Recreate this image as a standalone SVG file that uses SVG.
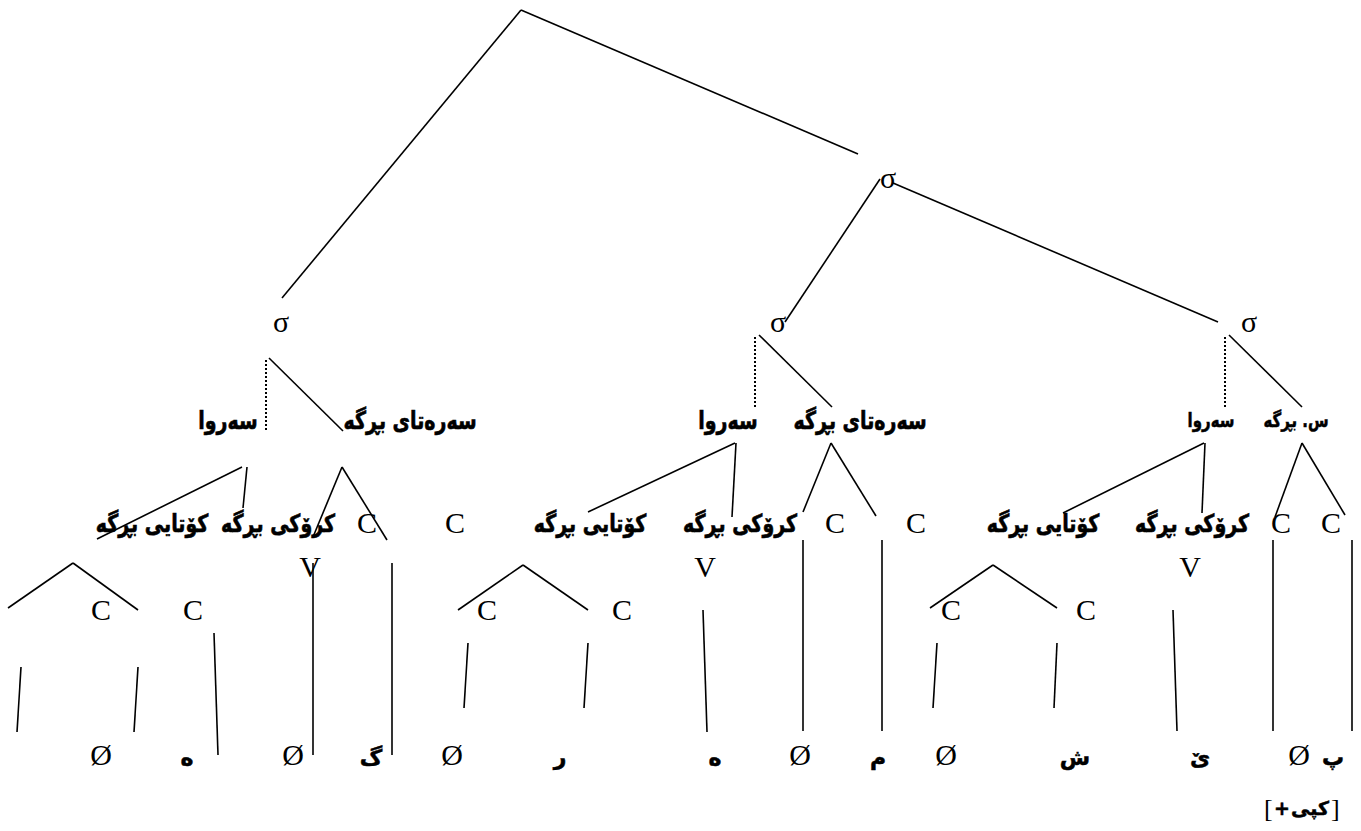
<svg xmlns="http://www.w3.org/2000/svg" width="1361" height="831" viewBox="0 0 1361 831">
<style>
.ln{stroke:#000;stroke-width:1.6;fill:none;stroke-linecap:butt}
.dot{stroke:#000;stroke-width:2;stroke-dasharray:2 2;fill:none}
.lat{font-family:"Liberation Serif","Times New Roman",serif;font-size:30px;fill:#000;text-anchor:middle}
.br{font-family:"Liberation Serif","Times New Roman",serif;font-size:26px;fill:#000}
.ku{font-family:"DejaVu Sans","Noto Sans",sans-serif;font-weight:bold;font-size:19px;fill:#000;stroke:#000;stroke-width:0.5;text-anchor:middle}
.kus{font-family:"DejaVu Sans","Noto Sans",sans-serif;font-weight:bold;font-size:15px;fill:#000;stroke:#000;stroke-width:0.4;text-anchor:middle}
.kub{font-family:"DejaVu Sans","Noto Sans",sans-serif;font-weight:bold;font-size:22px;fill:#000;stroke:#000;stroke-width:0.5;text-anchor:middle}
.kuf{font-family:"DejaVu Sans","Noto Sans",sans-serif;font-weight:bold;font-size:19px;fill:#000;stroke:#000;stroke-width:0.5}
</style>
<rect width="1361" height="831" fill="#fff"/>
<g id="connectors">
<line class="ln" x1="521" y1="10" x2="282" y2="298"/>
<line class="ln" x1="521" y1="10" x2="858" y2="154"/>
<line class="ln" x1="880" y1="179" x2="785" y2="322"/>
<line class="ln" x1="893" y1="183" x2="1218" y2="322"/>
<line class="dot" x1="266" y1="360" x2="266" y2="432"/>
<line class="ln" x1="269" y1="358" x2="343" y2="431"/>
<line class="dot" x1="755" y1="337" x2="755" y2="408"/>
<line class="ln" x1="759" y1="335" x2="832" y2="407"/>
<line class="dot" x1="1225" y1="337" x2="1225" y2="408"/>
<line class="ln" x1="1229" y1="335" x2="1302" y2="407"/>
<line class="ln" x1="242" y1="467" x2="97" y2="539"/>
<line class="ln" x1="247" y1="467" x2="243" y2="508"/>
<line class="ln" x1="342" y1="467" x2="313" y2="537"/>
<line class="ln" x1="342" y1="467" x2="387" y2="540"/>
<line class="ln" x1="735" y1="443" x2="588" y2="512"/>
<line class="ln" x1="736" y1="443" x2="732" y2="517"/>
<line class="ln" x1="831" y1="443" x2="803" y2="512"/>
<line class="ln" x1="831" y1="443" x2="876" y2="516"/>
<line class="ln" x1="1204" y1="443" x2="1063" y2="513"/>
<line class="ln" x1="1205" y1="443" x2="1202" y2="513"/>
<line class="ln" x1="1302" y1="443" x2="1275" y2="517"/>
<line class="ln" x1="1302" y1="443" x2="1345" y2="515"/>
<line class="ln" x1="313" y1="563" x2="313" y2="755"/>
<line class="ln" x1="392" y1="563" x2="392" y2="755"/>
<line class="ln" x1="803" y1="540" x2="803" y2="731"/>
<line class="ln" x1="882" y1="540" x2="882" y2="731"/>
<line class="ln" x1="1273" y1="540" x2="1273" y2="731"/>
<line class="ln" x1="1352" y1="540" x2="1352" y2="731"/>
<line class="ln" x1="73" y1="563" x2="8" y2="608"/>
<line class="ln" x1="73" y1="563" x2="138" y2="610"/>
<line class="ln" x1="523" y1="565" x2="458" y2="610"/>
<line class="ln" x1="523" y1="565" x2="588" y2="610"/>
<line class="ln" x1="993" y1="565" x2="930" y2="608"/>
<line class="ln" x1="993" y1="565" x2="1057" y2="608"/>
<line class="ln" x1="21" y1="667" x2="17" y2="732"/>
<line class="ln" x1="138" y1="667" x2="134" y2="732"/>
<line class="ln" x1="214" y1="633" x2="218" y2="755"/>
<line class="ln" x1="468" y1="643" x2="464" y2="708"/>
<line class="ln" x1="588" y1="643" x2="584" y2="708"/>
<line class="ln" x1="703" y1="610" x2="707" y2="732"/>
<line class="ln" x1="937" y1="643" x2="933" y2="708"/>
<line class="ln" x1="1057" y1="643" x2="1054" y2="708"/>
<line class="ln" x1="1173" y1="610" x2="1177" y2="731"/>
</g>
<g id="sigma-top"><text class="lat" x="888" y="188">σ</text></g>
<g id="sigma-left"><text class="lat" x="281" y="332">σ</text></g>
<g id="sigma-mid"><text class="lat" x="778" y="332">σ</text></g>
<g id="sigma-right"><text class="lat" x="1249" y="332">σ</text></g>
<g id="rhyme-left" transform="translate(228,429) scale(1,1.3)"><text class="ku" x="0" y="0">سەروا</text></g>
<g id="onset-left" transform="translate(410,429) scale(1,1.3)"><text class="ku" x="0" y="0">سەرەتای بڕگە</text></g>
<g id="rhyme-mid" transform="translate(728,429) scale(1,1.3)"><text class="ku" x="0" y="0">سەروا</text></g>
<g id="onset-mid" transform="translate(860,429) scale(1,1.3)"><text class="ku" x="0" y="0">سەرەتای بڕگە</text></g>
<g id="rhyme-right" transform="translate(1211,427) scale(1,1.3)"><text class="kus" x="0" y="0">سەروا</text></g>
<g id="onset-right" transform="translate(1296,427) scale(1,1.3)"><text class="kus" x="0" y="0">س. بڕگە</text></g>
<g id="coda-left" transform="translate(152,532) scale(1,1.3)"><text class="ku" x="0" y="0">کۆتایی بڕگە</text></g>
<g id="nucleus-left" transform="translate(278,532) scale(1,1.3)"><text class="ku" x="0" y="0">کرۆکی بڕگە</text></g>
<g id="c1-left"><text class="lat" x="367" y="533">C</text></g>
<g id="c2-left"><text class="lat" x="455" y="533">C</text></g>
<g id="coda-mid" transform="translate(590,532) scale(1,1.3)"><text class="ku" x="0" y="0">کۆتایی بڕگە</text></g>
<g id="nucleus-mid" transform="translate(740,532) scale(1,1.3)"><text class="ku" x="0" y="0">کرۆکی بڕگە</text></g>
<g id="c1-mid"><text class="lat" x="835" y="533">C</text></g>
<g id="c2-mid"><text class="lat" x="916" y="533">C</text></g>
<g id="coda-right" transform="translate(1043,532) scale(1,1.3)"><text class="ku" x="0" y="0">کۆتایی بڕگە</text></g>
<g id="nucleus-right" transform="translate(1192,532) scale(1,1.3)"><text class="ku" x="0" y="0">کرۆکی بڕگە</text></g>
<g id="c1-right"><text class="lat" x="1281" y="533">C</text></g>
<g id="c2-right"><text class="lat" x="1331" y="533">C</text></g>
<g id="v-left"><text class="lat" x="310" y="577">V</text></g>
<g id="v-mid"><text class="lat" x="705" y="577">V</text></g>
<g id="v-right"><text class="lat" x="1190" y="577">V</text></g>
<g id="cc-left-1"><text class="lat" x="101" y="620">C</text></g>
<g id="cc-left-2"><text class="lat" x="193" y="620">C</text></g>
<g id="cc-mid-1"><text class="lat" x="487" y="620">C</text></g>
<g id="cc-mid-2"><text class="lat" x="622" y="620">C</text></g>
<g id="cc-right-1"><text class="lat" x="951" y="620">C</text></g>
<g id="cc-right-2"><text class="lat" x="1086" y="620">C</text></g>
<g id="segments">
<text class="lat" x="101" y="765">Ø</text>
<text class="kub" x="187" y="765">ه</text>
<text class="lat" x="293" y="765">Ø</text>
<text class="kub" x="371" y="765">گ</text>
<text class="lat" x="452" y="765">Ø</text>
<text class="kub" x="560" y="765">ر</text>
<text class="kub" x="715" y="765">ه</text>
<text class="lat" x="800" y="765">Ø</text>
<text class="kub" x="878" y="765">م</text>
<text class="lat" x="946" y="765">Ø</text>
<text class="kub" x="1075" y="765">ش</text>
<text class="kub" x="1200" y="765">ێ</text>
<text class="lat" x="1299" y="765">Ø</text>
<text class="kub" x="1333" y="765">پ</text>
</g>
<g id="feature">
<text class="br" x="1264" y="817">[</text>
<text class="kuf" x="1274" y="815">+</text>
<text class="kuf" x="1291" y="815">کپی</text>
<text class="br" x="1331" y="817">]</text>
</g>
</svg>
